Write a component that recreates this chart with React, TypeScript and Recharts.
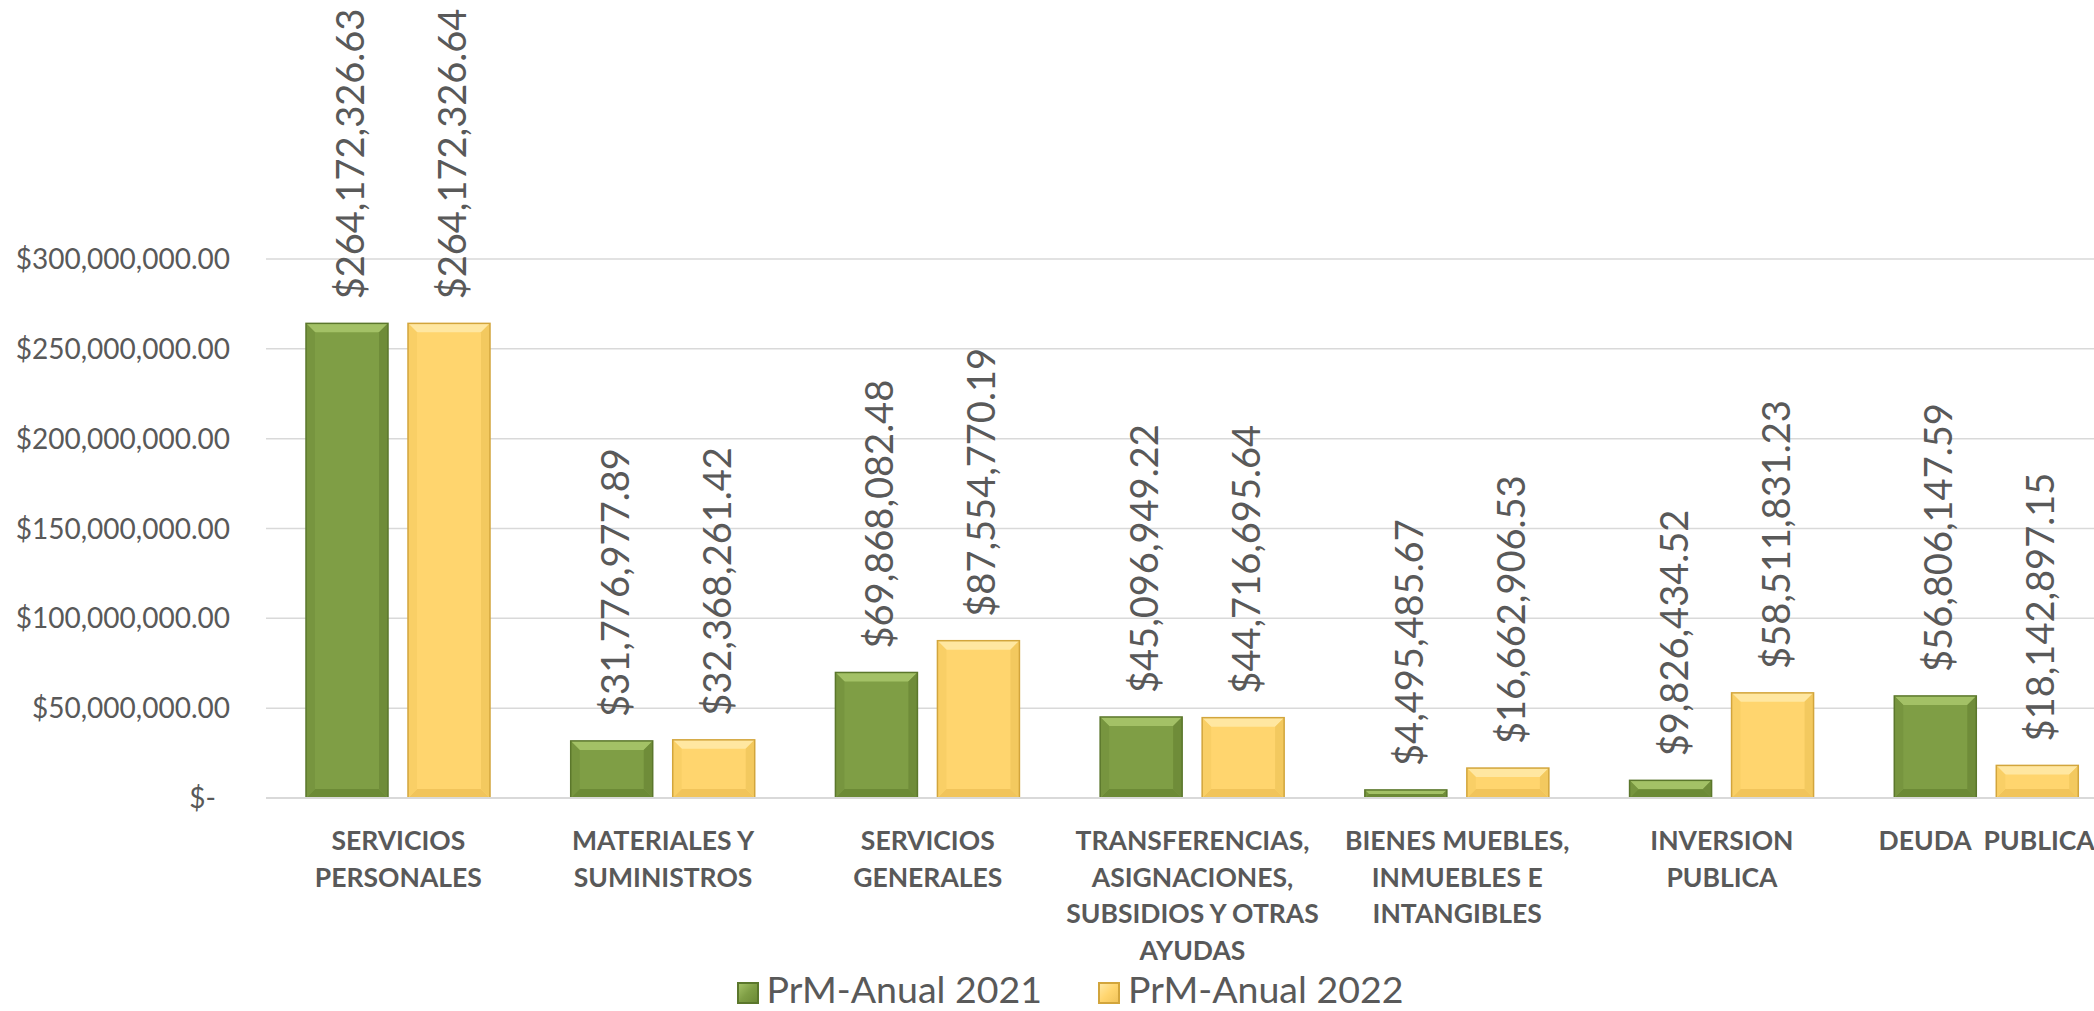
import { BarChart, Bar, XAxis, YAxis, CartesianGrid, Legend, LabelList } from 'recharts'

const categoryLines = [
  ['SERVICIOS', 'PERSONALES'],
  ['MATERIALES Y', 'SUMINISTROS'],
  ['SERVICIOS', 'GENERALES'],
  ['TRANSFERENCIAS,', 'ASIGNACIONES,', 'SUBSIDIOS Y OTRAS', 'AYUDAS'],
  ['BIENES MUEBLES,', 'INMUEBLES E', 'INTANGIBLES'],
  ['INVERSION', 'PUBLICA'],
  ['DEUDA  PUBLICA'],
]

const anual2021 = [264172326.63, 31776977.89, 69868082.48, 45096949.22, 4495485.67, 9826434.52, 56806147.59]
const anual2022 = [264172326.64, 32368261.42, 87554770.19, 44716695.64, 16662906.53, 58511831.23, 18142897.15]

const yTicks = [0, 50000000, 100000000, 150000000, 200000000, 250000000, 300000000]

const data = categoryLines.map((lines, i) => ({
  name: lines.join(' '),
  a2021: anual2021[i],
  a2022: anual2022[i],
}))

const FONT = 'Lato, "Noto Sans", sans-serif'
const GRAY = '#595959'

const money = (v: number) =>
  '$' + v.toLocaleString('en-US', { minimumFractionDigits: 2, maximumFractionDigits: 2 })

const palettes = {
  green: { main: '#7F9E45', top: '#A3C166', bottom: '#6C8A36', left: '#77953F', right: '#6F8C39', stroke: '#5B772C' },
  yellow: { main: '#FFD56E', top: '#FFE7A1', bottom: '#F1C45B', left: '#F9CF66', right: '#F3C95F', stroke: '#D2A53C' },
}

function bevelShape(kind: 'green' | 'yellow') {
  return (props: any) => {
    const { x, y, width: w, height: h } = props
    if (!h || h <= 0) return <g />
    const c = palettes[kind]
    const b = Math.min(9, h / 2, w / 2)
    return (
      <g>
        <rect x={x} y={y} width={w} height={h} fill={c.main} />
        <polygon points={`${x},${y} ${x + w},${y} ${x + w - b},${y + b} ${x + b},${y + b}`} fill={c.top} />
        <polygon points={`${x},${y + h} ${x + w},${y + h} ${x + w - b},${y + h - b} ${x + b},${y + h - b}`} fill={c.bottom} />
        <polygon points={`${x},${y} ${x + b},${y + b} ${x + b},${y + h - b} ${x},${y + h}`} fill={c.left} />
        <polygon points={`${x + w},${y} ${x + w - b},${y + b} ${x + w - b},${y + h - b} ${x + w},${y + h}`} fill={c.right} />
        <rect x={x} y={y} width={w} height={h} fill="none" stroke={c.stroke} strokeWidth={1.5} />
      </g>
    )
  }
}

function ValueLabel(props: any) {
  const { x, y, width, value } = props
  const cx = x + width / 2 + 2
  const sy = y - 24
  return (
    <text
      x={cx}
      y={sy}
      transform={`rotate(-90 ${cx} ${sy})`}
      textAnchor="start"
      dominantBaseline="central"
      fontSize={38}
      fontFamily={FONT}
      fill={GRAY}
    >
      {money(value)}
    </text>
  )
}

function YTick({ y, payload }: any) {
  const zero = payload.value === 0
  return (
    <text x={zero ? 216 : 230} y={y} dy="0.36em" textAnchor="end" fontSize={28} fontFamily={FONT} fill={GRAY}>
      {zero ? '$-' : money(payload.value)}
    </text>
  )
}

function XTick({ x, y, payload }: any) {
  const lines = categoryLines[payload.index] || [payload.value]
  return (
    <text textAnchor="middle" fontSize={26.5} fontWeight={700} fontFamily={FONT} fill={GRAY} style={{ whiteSpace: 'pre' }}>
      {lines.map((l, i) => (
        <tspan key={i} x={x} y={y + 52 + i * 36.5}>{l}</tspan>
      ))}
    </text>
  )
}

function LegendContent({ payload }: any) {
  return (
    <div style={{ display: 'flex', justifyContent: 'center', alignItems: 'center', fontFamily: FONT, fontSize: 37.5, lineHeight: '37px', height: 37, color: GRAY }}>
      {(payload || []).map((p: any, i: number) => {
        const c = palettes[p.dataKey === 'a2021' ? 'green' : 'yellow']
        return (
          <div key={i} style={{ display: 'flex', alignItems: 'center', marginRight: i === 0 ? 56 : 0 }}>
            <span
              style={{
                width: 22,
                height: 22,
                background: `linear-gradient(135deg, ${c.top}, ${c.main} 50%, ${c.bottom})`,
                border: `2px solid ${c.stroke}`,
                boxSizing: 'border-box',
                marginRight: 8,
                marginTop: 8,
              }}
            />
            <span>{p.value}</span>
          </div>
        )
      })}
    </div>
  )
}

export default function App() {
  return (
    <div style={{ position: 'fixed', left: 0, top: 0, width: 2094, height: 1011, overflow: 'hidden', background: '#fff' }}>
      <BarChart
        width={2140}
        height={1011}
        data={data}
        margin={{ top: 259, right: 21, bottom: 0, left: 0 }}
        barSize={82}
        barGap={20}
      >
        <CartesianGrid vertical={false} stroke="#D9D9D9" strokeWidth={1.5} />
        <XAxis
          dataKey="name"
          interval={0}
          height={213}
          tickLine={false}
          tickSize={0}
          tickMargin={0}
          axisLine={{ stroke: '#D9D9D9', strokeWidth: 2 }}
          tick={<XTick />}
        />
        <YAxis
          width={266}
          domain={[0, 300000000]}
          ticks={yTicks}
          axisLine={false}
          tickLine={false}
          tick={<YTick />}
        />
        <Legend
          layout="horizontal"
          verticalAlign="middle"
          align="center"
          wrapperStyle={{ top: 970, left: 0, width: 2140 }}
          content={<LegendContent />}
        />
        <Bar dataKey="a2021" name="PrM-Anual 2021" fill="#7F9E45" shape={bevelShape('green')} isAnimationActive={false}>
          <LabelList dataKey="a2021" content={<ValueLabel />} />
        </Bar>
        <Bar dataKey="a2022" name="PrM-Anual 2022" fill="#FFD56E" shape={bevelShape('yellow')} isAnimationActive={false}>
          <LabelList dataKey="a2022" content={<ValueLabel />} />
        </Bar>
      </BarChart>
    </div>
  )
}
